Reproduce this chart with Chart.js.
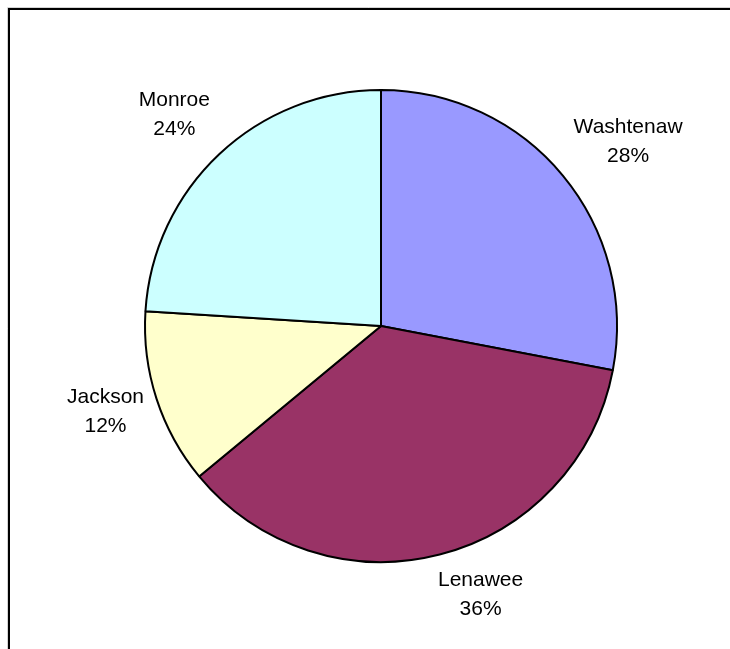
<!DOCTYPE html>
<html>
<head>
<meta charset="utf-8">
<style>
  html, body { margin: 0; padding: 0; background: #fff; }
  #wrap { width: 730px; height: 649px; position: relative; }
</style>
<script src="https://cdn.jsdelivr.net/npm/chart.js@4/dist/chart.umd.min.js"></script>
</head>
<body>
<div id="wrap"><canvas id="pieChart" width="730" height="649"></canvas></div>
<script>
const counties = ["Washtenaw", "Lenawee", "Jackson", "Monroe"];
const shares = [28, 36, 12, 24];
const sliceColors = ["#9999FF", "#993366", "#FFFFCC", "#CCFFFF"];

// frame along the top and left edges
const framePlugin = {
    id: "frame",
    beforeDraw(chart) {
        const ctx = chart.ctx;
        ctx.save();
        ctx.strokeStyle = "#d4d4d4";
        ctx.lineWidth = 1;
        ctx.beginPath();
        ctx.moveTo(7.5, chart.height);
        ctx.lineTo(7.5, 7.5);
        ctx.lineTo(chart.width, 7.5);
        ctx.stroke();
        ctx.strokeStyle = "#000";
        ctx.lineWidth = 2;
        ctx.beginPath();
        ctx.moveTo(9, chart.height);
        ctx.lineTo(9, 9);
        ctx.lineTo(chart.width, 9);
        ctx.stroke();
        ctx.restore();
    }
};

// category name and percent outside each slice
const outsideLabels = {
    id: "outsideLabels",
    afterDatasetsDraw(chart, args, opts) {
        const ctx = chart.ctx;
        const meta = chart.getDatasetMeta(0);
        const values = chart.data.datasets[0].data;
        const total = values.reduce((a, b) => a + b, 0);
        ctx.save();
        ctx.font = opts.font;
        ctx.fillStyle = "#000";
        ctx.textAlign = "center";
        ctx.textBaseline = "middle";
        meta.data.forEach((arc, i) => {
            const mid = (arc.startAngle + arc.endAngle) / 2;
            const d = arc.outerRadius + opts.distance;
            const nudge = opts.nudge[i] || [0, 0];
            const x = arc.x + Math.cos(mid) * d + nudge[0];
            const y = arc.y + Math.sin(mid) * d + nudge[1];
            const pct = Math.round(values[i] / total * 100) + "%";
            ctx.fillText(chart.data.labels[i], x, y - opts.lineGap / 2);
            ctx.fillText(pct, x, y + opts.lineGap / 2);
        });
        ctx.restore();
    }
};

new Chart(document.getElementById("pieChart"), {
    type: "pie",
    data: {
        labels: counties,
        datasets: [{
            data: shares,
            backgroundColor: sliceColors,
            borderColor: "#000",
            borderWidth: 2
        }]
    },
    options: {
        responsive: false,
        animation: false,
        devicePixelRatio: 1,
        layout: {
            padding: { left: 144, right: 112, top: 89, bottom: 86 }
        },
        plugins: {
            legend: { display: false },
            tooltip: { enabled: false },
            outsideLabels: {
                font: "21px 'Liberation Sans', Arial, sans-serif",
                distance: 60,
                lineGap: 29,
                nudge: [[19, 4], [26, -18], [6, -6], [-4, 4]]
            }
        }
    },
    plugins: [framePlugin, outsideLabels]
});
</script>
</body>
</html>
